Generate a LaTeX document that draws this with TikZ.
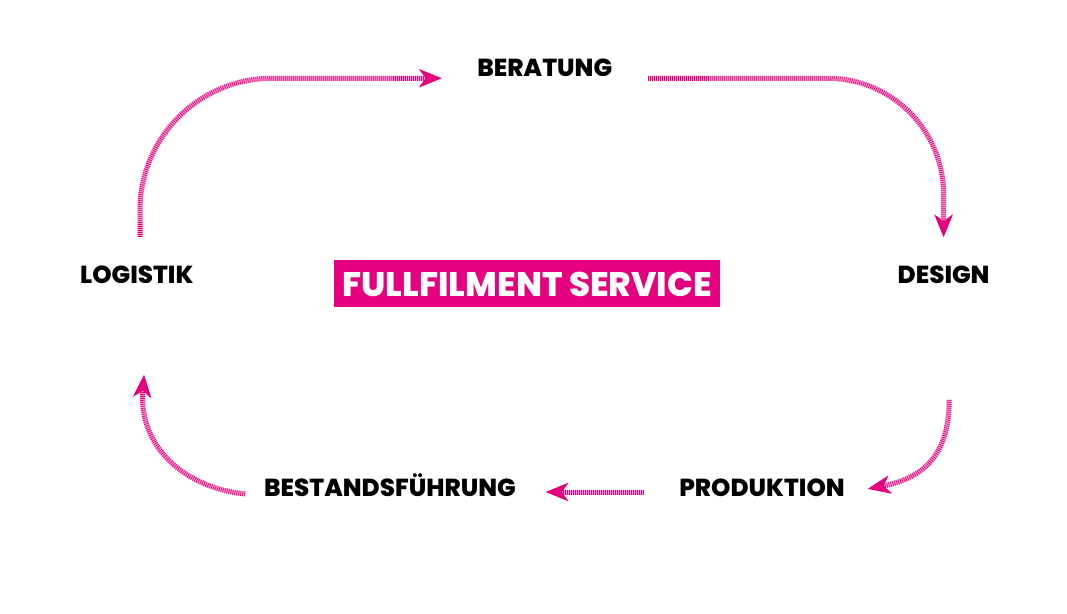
\documentclass[tikz,border=0pt]{standalone}
\usepackage{fontspec}
\setmainfont{Poppins}[BoldFont={Poppins ExtraBold}]
\usetikzlibrary{arrows.meta}
\definecolor{fullpink}{HTML}{E6007E}
\tikzset{
stepname/.style={ % Sets the properties for each step
font=\bfseries\fontsize{17.5}{19}\selectfont,
text=black,
text height=0.43cm,
text depth=0pt,
inner sep=0pt},
servicebox/.style={
fill=fullpink,
text=white,
font=\bfseries\fontsize{24.2}{27}\selectfont,
text height=0.67cm,
text depth=0pt,
minimum width=9.65cm,
minimum height=1.175cm,
inner sep=0pt},
flow/.style={ % Hatched line with a notched tip
draw=fullpink!35,
line width=0.125cm,
-{Stealth[length=0.55cm,width=0.44cm,inset=0.16cm,fullpink]},
postaction={draw=fullpink,dash pattern=on 0.55pt off 0.87pt}}}

\begin{document}
\begin{tikzpicture}
\useasboundingbox (0,0) rectangle (26.675,15.325);
\node[servicebox] (service) at (13.18,8.24) {FULLFILMENT SERVICE};
\node[stepname, minimum width=5.15cm, minimum height=0.5cm] (beratung) at (13.62,13.625) {BERATUNG};
\node[stepname] (design) at (23.59,8.45) {DESIGN};
\node[stepname] (produktion) at (19.05,3.125) {PRODUKTION};
\node[stepname] (bestand) at (9.75,3.125) {BESTANDSFÜHRUNG};
\node[stepname] (logistik) at (3.42,8.45) {LOGISTIK};
\draw[flow, rounded corners=3.3cm] ([shift={(0.08,0.95)}]logistik.center) |- (beratung.south west);
\draw[flow, rounded corners=2.9cm] (beratung.south east) -| ([yshift=0.95cm]design.center);
\draw[flow] ([shift={(0.14,-3.12)}]design.center) .. controls ([shift={(0.14,-4.6)}]design.center) and ([shift={(-0.6,-5.1)}]design.center) .. ([xshift=2.65cm,yshift=-0.02cm]produktion.center);
\draw[flow] ([shift={(-2.95,-0.1)}]produktion.center) -- ([shift={(3.9,-0.1)}]bestand.center);
\draw[flow] ([shift={(-3.62,-0.15)}]bestand.center) .. controls ([shift={(-5.1,0)}]bestand.center) and ([shift={(-6.3,1)}]bestand.center) .. ([shift={(0.18,-2.5)}]logistik.center);
\end{tikzpicture}
\end{document}
